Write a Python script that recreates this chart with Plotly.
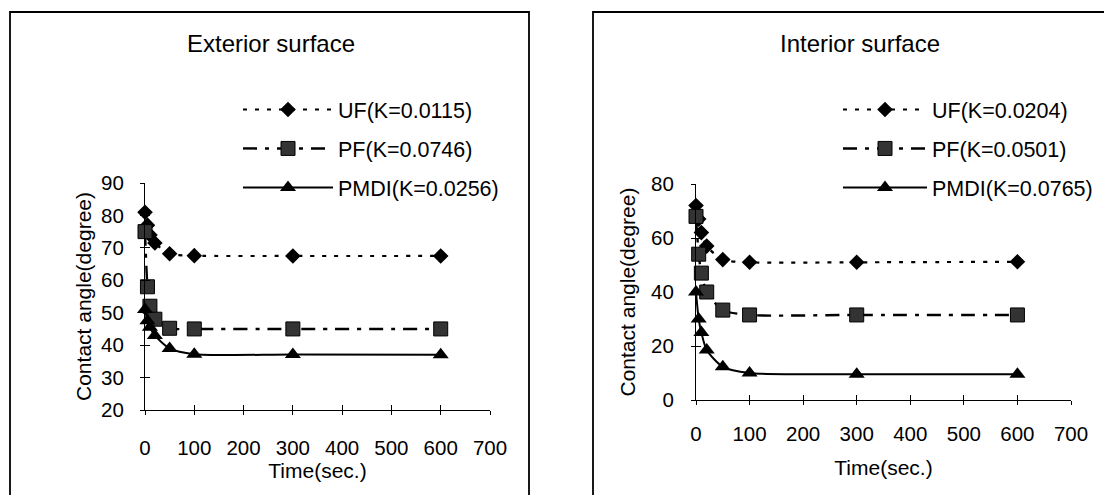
import plotly.graph_objects as go

# page body keeps an 8px margin, so the figure is sized to fit the window
OFF = 8
W, H = 1112 - 2 * OFF, 503 - 2 * OFF


def fx(px):
    return (px - OFF) / W


def fy(py):
    return 1 - (py - OFF) / H


time_s = [0, 5, 10, 20, 50, 100, 300, 600]

ext_uf = [81, 77, 74, 71.5, 68.2, 67.6, 67.5, 67.5]
ext_pf = [75, 58, 52, 48, 45.2, 45, 45, 45]
ext_pmdi = [51, 47.5, 45.5, 43, 39, 37.2, 37.1, 37]

int_uf = [72, 67, 62, 57, 52, 51, 51, 51.2]
int_pf = [68, 54, 47, 40, 33.3, 31.5, 31.5, 31.5]
int_pmdi = [40, 30, 25, 18.5, 12.3, 10, 9.5, 9.5]

ext_names = ["UF(K=0.0115)", "PF(K=0.0746)", "PMDI(K=0.0256)"]
int_names = ["UF(K=0.0204)", "PF(K=0.0501)", "PMDI(K=0.0765)"]

panel_titles = ["Exterior surface", "Interior surface"]
x_title = "Time(sec.)"
y_title = "Contact angle(degree)"

FONT = "Liberation Sans, Arial, sans-serif"
FS_TICK = 20.5
FS_LEG = 21.5
FS_TITLE = 24
FS_AX = 21

styles = [
    dict(line=dict(color="black", width=2.2, dash="4px,8px"),
         marker=dict(symbol="diamond", size=12, color="black")),
    dict(line=dict(color="black", width=2.4, dash="14px,8px,4px,8px"),
         marker=dict(symbol="square", size=14, color="#333333",
                     line=dict(color="black", width=1))),
    dict(line=dict(color="black", width=2),
         marker=dict(symbol="triangle-up", size=14, color="black")),
]

fig = go.Figure()

panels = [
    (ext_names, [ext_uf, ext_pf, ext_pmdi], "x", "y", "legend", "x3", "y3"),
    (int_names, [int_uf, int_pf, int_pmdi], "x2", "y2", "legend2", "x4", "y4"),
]
for names, series, xa, ya, lg, xo, yo in panels:
    for i, (nm, vals) in enumerate(zip(names, series)):
        st = styles[i]
        fig.add_trace(go.Scatter(
            x=time_s, y=vals, name=nm, mode="lines+markers",
            line=dict(shape="spline", smoothing=0.7, **st["line"]),
            marker=st["marker"], xaxis=xa, yaxis=ya, legend=lg,
            legendgroup=lg + str(i), cliponaxis=False,
        ))
    # invisible trace carrying the overlay axes (crossing tick marks)
    fig.add_trace(go.Scatter(x=time_s, y=series[0], mode="markers",
                             marker=dict(opacity=0), showlegend=False,
                             hoverinfo="skip", xaxis=xo, yaxis=yo))

axis_common = dict(showline=True, linecolor="black", linewidth=1.2,
                   ticks="outside", ticklen=4, tickcolor="black", tickwidth=1.2,
                   showgrid=False, zeroline=False, automargin=False,
                   tickfont=dict(family=FONT, size=FS_TICK, color="black"))
overlay_common = dict(showline=False, ticks="inside", ticklen=5,
                      tickcolor="black", tickwidth=1.2, showticklabels=False,
                      showgrid=False, zeroline=False)

dom_x1 = [fx(145), fx(490)]
dom_y1 = [fy(410), fy(183)]
dom_x2 = [fx(696), fx(1071)]
dom_y2 = [fy(400), fy(184)]

fig.update_layout(
    width=W, height=H,
    margin=dict(l=0, r=0, t=0, b=0, autoexpand=False),
    paper_bgcolor="white", plot_bgcolor="rgba(0,0,0,0)",
    font=dict(family=FONT, size=FS_TICK, color="black"),
    xaxis=dict(domain=dom_x1, range=[0, 700], dtick=100, anchor="y",
               ticklabelstandoff=15,
               title=dict(text=x_title, standoff=4, font=dict(size=FS_AX)),
               **axis_common),
    yaxis=dict(domain=dom_y1, range=[20, 90], dtick=10, anchor="x",
               ticklabelstandoff=12,
               title=dict(text=y_title, standoff=3, font=dict(size=FS_AX)),
               **axis_common),
    xaxis2=dict(domain=dom_x2, range=[0, 700], dtick=100, anchor="y2",
                ticklabelstandoff=11,
                title=dict(text=x_title, standoff=16, font=dict(size=FS_AX)),
                **axis_common),
    yaxis2=dict(domain=dom_y2, range=[0, 80], dtick=20, anchor="x2",
                ticklabelstandoff=13,
                title=dict(text=y_title, standoff=9, font=dict(size=FS_AX)),
                **axis_common),
    xaxis3=dict(overlaying="x", anchor="y", range=[0, 700], dtick=100, **overlay_common),
    yaxis3=dict(overlaying="y", anchor="x", range=[20, 90], dtick=10, **overlay_common),
    xaxis4=dict(overlaying="x2", anchor="y2", range=[0, 700], dtick=100, **overlay_common),
    yaxis4=dict(overlaying="y2", anchor="x2", range=[0, 80], dtick=20, **overlay_common),
    legend=dict(x=fx(238), y=fy(89), xanchor="left", yanchor="top",
                bgcolor="rgba(0,0,0,0)", font=dict(family=FONT, size=FS_LEG),
                itemwidth=90, tracegroupgap=8),
    legend2=dict(x=fx(838), y=fy(89), xanchor="left", yanchor="top",
                 bgcolor="rgba(0,0,0,0)", font=dict(family=FONT, size=FS_LEG),
                 itemwidth=84, tracegroupgap=8),
    showlegend=True,
    shapes=[
        dict(type="rect", xref="paper", yref="paper", x0=fx(10), x1=fx(529),
             y0=-0.05, y1=fy(12), line=dict(color="black", width=1.8)),
        dict(type="rect", xref="paper", yref="paper", x0=fx(593), x1=1.05,
             y0=-0.05, y1=fy(12), line=dict(color="black", width=1.8)),
    ],
    annotations=[
        dict(text=panel_titles[0], x=fx(271), y=fy(43), xref="paper", yref="paper",
             xanchor="center", yanchor="middle", showarrow=False,
             font=dict(family=FONT, size=FS_TITLE)),
        dict(text=panel_titles[1], x=fx(860), y=fy(43), xref="paper", yref="paper",
             xanchor="center", yanchor="middle", showarrow=False,
             font=dict(family=FONT, size=FS_TITLE)),
    ],
)

fig.write_html("out.html")
